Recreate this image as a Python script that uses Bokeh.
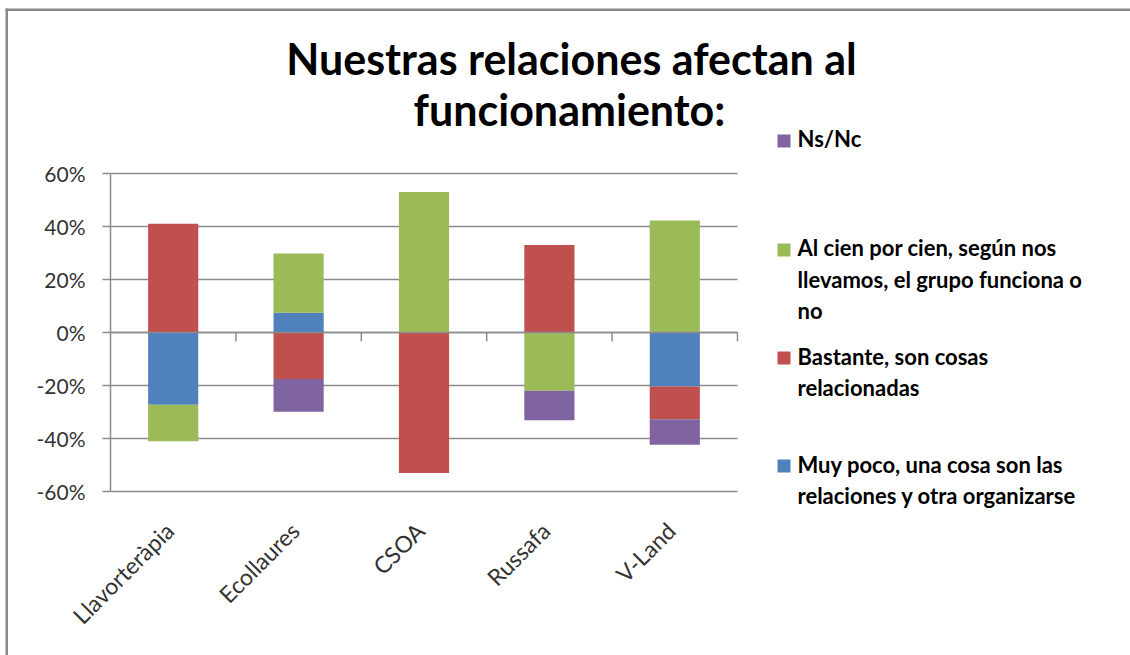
import numpy as np
from math import pi
from bokeh.plotting import figure
from bokeh.models import Range1d, FixedTicker, NumeralTickFormatter
from bokeh.core.properties import value
from bokeh.embed import file_html
from bokeh.resources import INLINE

# ---------------- data ----------------
categories = ["Llavorteràpia", "Ecollaures", "CSOA", "Russafa", "V-Land"]
series_names = [
    "Muy poco, una cosa son las relaciones y otra organizarse",
    "Bastante, son cosas relacionadas",
    "Al cien por cien, según nos llevamos, el grupo funciona o no",
    "Ns/Nc",
]
muy_poco = [-0.273, 0.075, 0.0, 0.0, -0.204]
bastante = [0.410, -0.175, -0.530, 0.330, -0.123]
al_cien = [-0.137, 0.223, 0.530, -0.220, 0.423]
ns_nc = [0.0, -0.124, 0.0, -0.111, -0.097]
y_ticks = [-0.6, -0.4, -0.2, 0.0, 0.2, 0.4, 0.6]
title_lines = ["Nuestras relaciones afectan al", "funcionamiento:"]
legend_lines = [
    ["Muy poco, una cosa son las", "relaciones y otra organizarse"],
    ["Bastante, son cosas", "relacionadas"],
    ["Al cien por cien, según nos", "llevamos, el grupo funciona o", "no"],
    ["Ns/Nc"],
]

# ---------------- style / layout ----------------
colors = ["#4F81BD", "#C0504D", "#9BBB59", "#8064A2"]
FONT = "Lato"
GRID = "#8c8c8c"
TXT = "#333333"
W, H = 1130, 655
FL, FR, FT, FB = 110, 737, 173, 491      # plot-area edges (page px)
YMIN, YMAX = -0.6, 0.6
TITLE_FS, LEG_FS = 43, 22
BASE_SHIFT = 0.43                        # text anchor -> baseline correction (em)

series = [muy_poco, bastante, al_cien, ns_nc]
n = len(categories)
xc = np.arange(n) + 0.5          # category centres

# ranges chosen so that the plot area [0, n] x [YMIN, YMAX] lands on FL..FR, FT..FB
xu = (FR - FL) / n
yu = (FB - FT) / (YMAX - YMIN)
x_range = Range1d(-FL / xu, (W - FL) / xu)
y_range = Range1d(YMIN - (H - FB) / yu, YMAX + FT / yu)

p = figure(x_range=x_range, y_range=y_range, width=W, height=H,
           output_backend="svg", toolbar_location=None, min_border=0)
p.outline_line_color = None
p.background_fill_color = "white"
p.border_fill_color = "white"
p.extra_x_ranges = {"px": Range1d(0, W)}
p.extra_y_ranges = {"px": Range1d(H, 0)}

# horizontal gridlines
p.segment(x0=[0] * len(y_ticks), x1=[n] * len(y_ticks), y0=y_ticks, y1=y_ticks,
          line_color=GRID, line_width=1.5)

# stacked bars: positives up, negatives down
pos = np.zeros(n)
neg = np.zeros(n)
for vals, col in zip(series, colors):
    v = np.array(vals)
    bottom = np.where(v >= 0, pos, neg)
    top = bottom + v
    pos = np.where(v >= 0, pos + v, pos)
    neg = np.where(v < 0, neg + v, neg)
    p.vbar(x=xc, bottom=bottom, top=top, width=0.4,
           fill_color=col, line_color=None)

# category axis line on zero with boundary ticks
bounds = list(range(1, n + 1))
p.segment(x0=bounds, y0=[0] * len(bounds), x1=bounds, y1=[-0.034] * len(bounds),
          line_color=GRID, line_width=1.5)
p.segment(x0=[0], y0=[0], x1=[n], y1=[0], line_color=GRID, line_width=1.5)

# value axis (fixed at the plot-area's left edge)
p.xgrid.visible = False
p.ygrid.visible = False
p.yaxis.fixed_location = 0
p.yaxis.bounds = (YMIN, YMAX)
p.yaxis.ticker = FixedTicker(ticks=y_ticks)
p.yaxis.formatter = NumeralTickFormatter(format="0%")
p.yaxis.axis_line_color = GRID
p.yaxis.axis_line_width = 1.5
p.yaxis.major_tick_line_color = GRID
p.yaxis.major_tick_line_width = 1.5
p.yaxis.major_tick_out = 8
p.yaxis.major_tick_in = 0
p.yaxis.minor_tick_line_color = None
p.yaxis.major_label_standoff = 17
p.yaxis.major_label_text_font = FONT
p.yaxis.major_label_text_font_size = "21px"
p.yaxis.major_label_text_color = TXT

# category labels (fixed at the plot-area's bottom edge)
label_ticks = [float(x) for x in xc - 0.03]
p.xaxis.fixed_location = YMIN
p.xaxis.ticker = FixedTicker(ticks=label_ticks)
p.xaxis.major_label_overrides = {t: c for t, c in zip(label_ticks, categories)}
p.xaxis.axis_line_color = None
p.xaxis.major_tick_line_color = None
p.xaxis.minor_tick_line_color = None
p.xaxis.major_tick_out = 0
p.xaxis.major_tick_in = 0
p.xaxis.major_label_orientation = pi / 4
p.xaxis.major_label_standoff = 35
p.xaxis.major_label_text_font = FONT
p.xaxis.major_label_text_font_size = "23px"
p.xaxis.major_label_text_color = TXT

# chart border (top and left edges)
p.quad(left=[5, 5], right=[W, 7.5], top=[8, 8], bottom=[10.5, H],
       x_range_name="px", y_range_name="px",
       fill_color="#8a8a8a", line_color=None)

# title (two lines)
title_baselines = [76, 127]
p.text(x=[571, 569], y=[b - BASE_SHIFT * TITLE_FS for b in title_baselines],
       text=title_lines, x_range_name="px", y_range_name="px",
       text_align="center", text_baseline="alphabetic",
       text_font=value(FONT), text_font_style="bold",
       text_font_size=f"{TITLE_FS}px", text_color="black")

# legend (reverse order like Excel)
leg_box_tops = [459, 351, 243, 134]
leg_baselines = [[473, 504], [365, 396], [256.5, 288, 319], [147.5]]
p.quad(left=[777] * 4, right=[790] * 4, top=leg_box_tops,
       bottom=[t + 13 for t in leg_box_tops],
       x_range_name="px", y_range_name="px",
       fill_color=colors, line_color=None)
lx, ly, lt = [], [], []
for lines, bls in zip(legend_lines, leg_baselines):
    for txt, yb in zip(lines, bls):
        lx.append(797)
        ly.append(yb - BASE_SHIFT * LEG_FS)
        lt.append(txt)
p.text(x=lx, y=ly, text=lt, x_range_name="px", y_range_name="px",
       text_align="left", text_baseline="alphabetic",
       text_font=value(FONT), text_font_style="bold",
       text_font_size=f"{LEG_FS}px", text_color="black")

open("out.html", "w").write(file_html(p, INLINE))
